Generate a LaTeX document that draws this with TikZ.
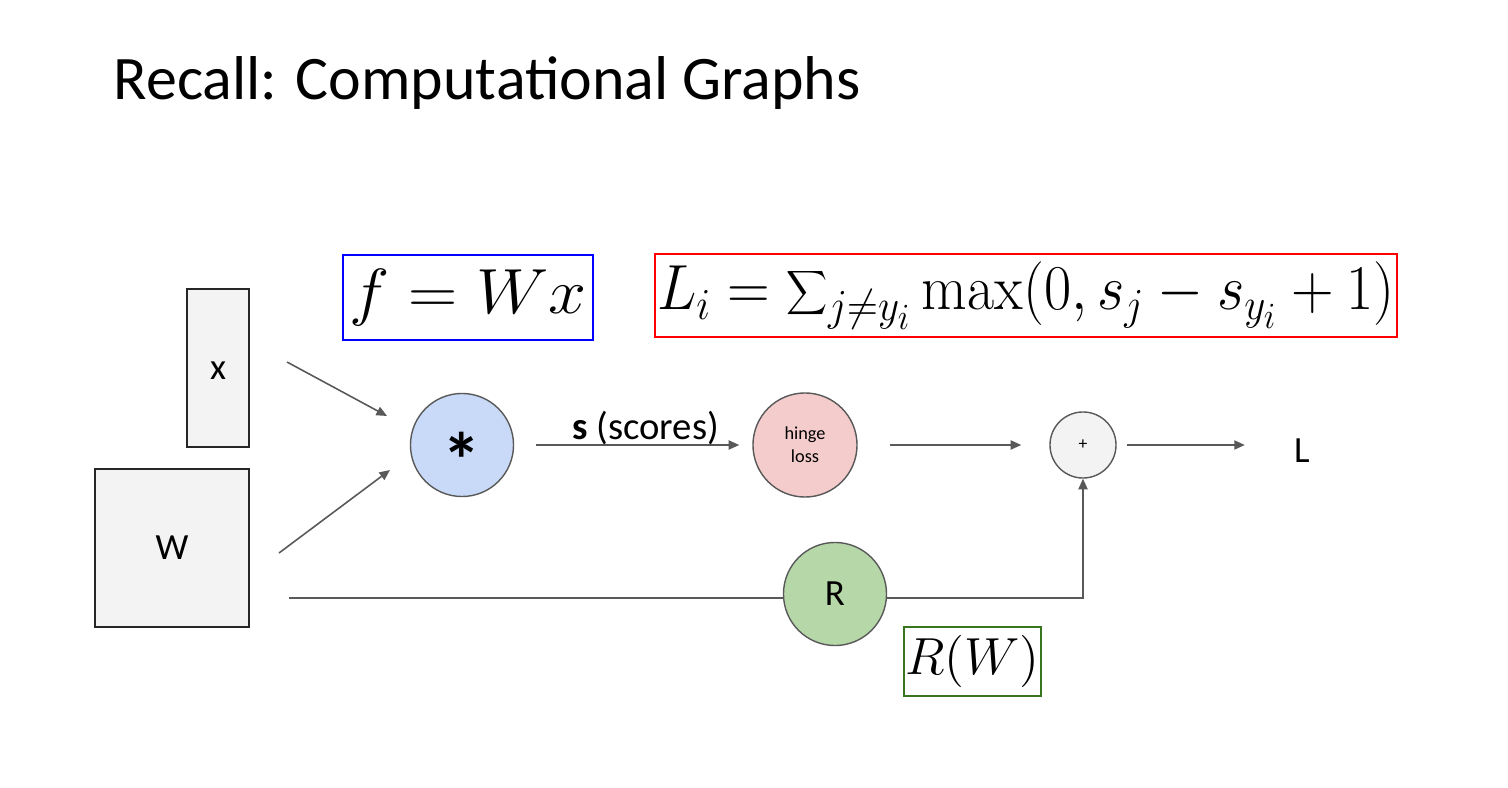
\documentclass[tikz,border=0pt]{standalone}
\usepackage{fontspec}
\setsansfont{Carlito}
\usetikzlibrary{arrows.meta}

\definecolor{linegray}{HTML}{595959}
\definecolor{boxgray}{HTML}{F3F3F3}
\definecolor{multblue}{HTML}{C9DAF8}
\definecolor{hingepink}{HTML}{F4CCCC}
\definecolor{regreen}{HTML}{B6D7A8}
\definecolor{rwgreen}{HTML}{38761D}

\begin{document}
\begin{tikzpicture}[x=0.01cm,y=-0.01cm,font=\sffamily]

% Styles
\tikzset{
    databox/.style={draw=black!85, fill=boxgray, line width=0.5pt, inner sep=0pt,
        font=\sffamily\fontsize{10.5}{12}\selectfont},
    opnode/.style={circle, draw=linegray, line width=0.4pt, inner sep=0pt},
    eqbox/.style={line width=0.7pt, inner sep=0pt},
    wire/.style={draw=linegray, line width=0.45pt},
    flow/.style={wire, -{Triangle[length=3pt,width=2.6pt]}},
}

\useasboundingbox (0,0) rectangle (1508,788);

% Title
\node[anchor=base west, inner sep=0pt, font=\sffamily\fontsize{17.6}{21}\selectfont]
    (title) at (113,100) {Recall: Computational Graphs};

% Inputs
\node[databox, minimum width=0.62cm, minimum height=1.58cm, text height=6.6pt, text depth=0pt]
    (xbox) at (218,368) {x};
\node[databox, minimum width=1.54cm, minimum height=1.58cm] (wbox) at (172,548) {W};

% Formula boxes
\node[eqbox, draw=blue, minimum width=2.5cm, minimum height=0.85cm,
    font=\fontsize{20.74}{24}\selectfont] (fbox) at (468,297.5)
    {\scalebox{0.935}[0.875]{$f = Wx$}};
\node[eqbox, draw=red, minimum width=7.42cm, minimum height=0.83cm,
    font=\fontsize{20.74}{24}\selectfont] (lbox) at (1026,295.5)
    {\scalebox{0.81}[0.875]{$L_i = \displaystyle\sum\nolimits_{j\neq y_i} \max(0, s_j - s_{y_i} + 1)$}};
\node[eqbox, draw=rwgreen, minimum width=1.37cm, minimum height=0.69cm,
    font=\fontsize{14.4}{17}\selectfont] (rwbox) at (972.5,661.5)
    {\scalebox{1.03}{$R(W)$}};

% Operation nodes
\node[opnode, fill=multblue, minimum size=1.03cm, text height=24pt, text depth=0pt,
    font=\sffamily\bfseries\fontsize{22}{24}\selectfont] (mult) at (462,445) {*};
\node[opnode, fill=hingepink, minimum size=1.04cm, align=center,
    font=\sffamily\fontsize{5.2}{6.5}\selectfont] (hinge) at (805,445) {hinge\\loss};
\node[opnode, fill=boxgray, minimum size=0.66cm, font=\sffamily\fontsize{5}{6}\selectfont]
    (plus) at (1083,445) {+};
\node[opnode, fill=regreen, minimum size=1.03cm, font=\sffamily\fontsize{10.5}{12}\selectfont]
    (reg) at (835,594) {R};
\node[font=\sffamily\fontsize{10.5}{12}\selectfont] (loss) at (1302,451) {L};

% Connectors
\coordinate (xout) at (287,362);
\coordinate (xin) at (387,416);
\coordinate (wout) at (279,553);
\coordinate (win) at (390,470);
\coordinate (wreg) at (289,598);

\draw[flow] (xout) -- (xin);
\draw[flow] (wout) -- (win);
\draw[flow] ([xshift=0.22cm]mult.east) -- ([xshift=-0.13cm]hinge.west)
    node[midway, above=-3.5pt, xshift=0.08cm, font=\sffamily\fontsize{11}{13}\selectfont]
    {\textbf{s} (scores)};
\draw[flow] ([xshift=0.32cm]hinge.east) -- ([xshift=-0.28cm]plus.west);
\draw[flow] ([xshift=0.1cm]plus.east) -- ([xshift=-0.37cm]plus.east -| loss.west);
\draw[wire] (wreg) -- (wreg -| reg.west);
\draw[flow] (reg.east |- wreg) -| (plus.south);

\end{tikzpicture}
\end{document}
